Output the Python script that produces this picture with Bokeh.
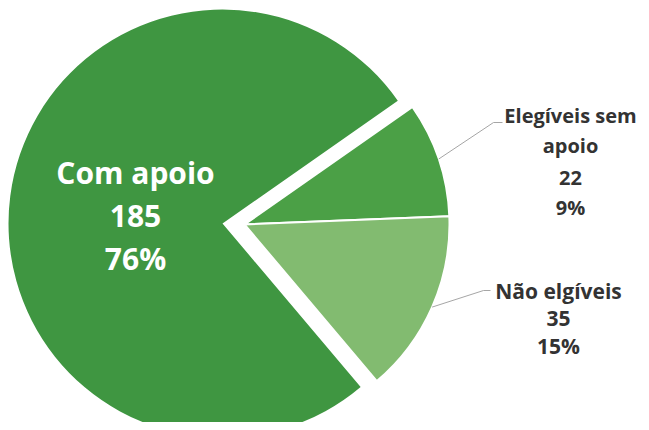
import math
from bokeh.plotting import figure
from bokeh.models import Range1d
from bokeh.embed import file_html
from bokeh.resources import INLINE
from bokeh.core.properties import value

# ---- data ----
categories = ["Com apoio", "Elegíveis sem apoio", "Não elgíveis"]
counts = [185, 22, 35]
percent_labels = ["76%", "9%", "15%"]
name_lines = [["Com apoio"], ["Elegíveis sem", "apoio"], ["Não elgíveis"]]

colors = ["#3f9641", "#4ba046", "#82bb70"]

W, H = 641, 422
p = figure(width=W, height=H, x_range=Range1d(0, W), y_range=Range1d(0, H),
           output_backend="svg", toolbar_location=None, min_border=0)
p.axis.visible = False
p.grid.visible = False
p.outline_line_color = None
p.background_fill_color = "white"
p.border_fill_color = "white"


def Y(y):
    return H - y


total = sum(counts)
spans = [c / total * 2 * math.pi for c in counts]
top = math.radians(35)  # upper edge of the exploded group

# slices clockwise from top edge: Elegíveis, Não, then Com apoio
e_end = top
e_start = top - spans[1]
n_end = e_start
n_start = n_end - spans[2]
c_start = top
c_end = n_start + 2 * math.pi

big_c = (222, Y(223))
small_c = (244, Y(224))
R_big, R_small = 214, 205

p.wedge(x=[big_c[0]], y=[big_c[1]], radius=R_big, start_angle=[c_start], end_angle=[c_end],
        fill_color=colors[0], line_color=None)
p.wedge(x=[small_c[0]] * 2, y=[small_c[1]] * 2, radius=R_small,
        start_angle=[e_start, n_start], end_angle=[e_end, n_end],
        fill_color=[colors[1], colors[2]], line_color="white", line_width=2)

# leader lines
elbows = [(493, 122), (483, 290)]
ends = [(502, 122), (490, 290)]
mids = [(e_start + e_end) / 2, (n_start + n_end) / 2]
xs, ys = [], []
for m, el, en in zip(mids, elbows, ends):
    sx = small_c[0] + R_small * math.cos(m)
    sy = small_c[1] + R_small * math.sin(m)
    xs.append([sx, el[0], en[0]])
    ys.append([sy, Y(el[1]), Y(en[1])])
p.multi_line(xs=xs, ys=ys, line_color="#a6a6a6", line_width=1)

font = value("Open Sans")

# Com apoio label (white, inside)
lines0 = name_lines[0] + [str(counts[0]), percent_labels[0]]
p.text(x=[135] * 3, y=[Y(172), Y(215), Y(258)], text=lines0, text_font=font,
       text_font_style="bold", text_font_size="30px", text_color="white",
       text_align="center", text_baseline="middle")

# Elegíveis label
lines1 = name_lines[1] + [str(counts[1]), percent_labels[1]]
p.text(x=[570] * 4, y=[Y(115), Y(145), Y(177), Y(207)], text=lines1, text_font=font,
       text_font_style="bold", text_font_size="20px", text_color="#333333",
       text_align="center", text_baseline="middle")

# Não elgíveis label
lines2 = name_lines[2] + [str(counts[2]), percent_labels[2]]
p.text(x=[558] * 3, y=[Y(290), Y(318), Y(345)], text=lines2, text_font=font,
       text_font_style="bold", text_font_size="21px", text_color="#333333",
       text_align="center", text_baseline="middle")

open("out.html", "w").write(file_html(p, INLINE))
